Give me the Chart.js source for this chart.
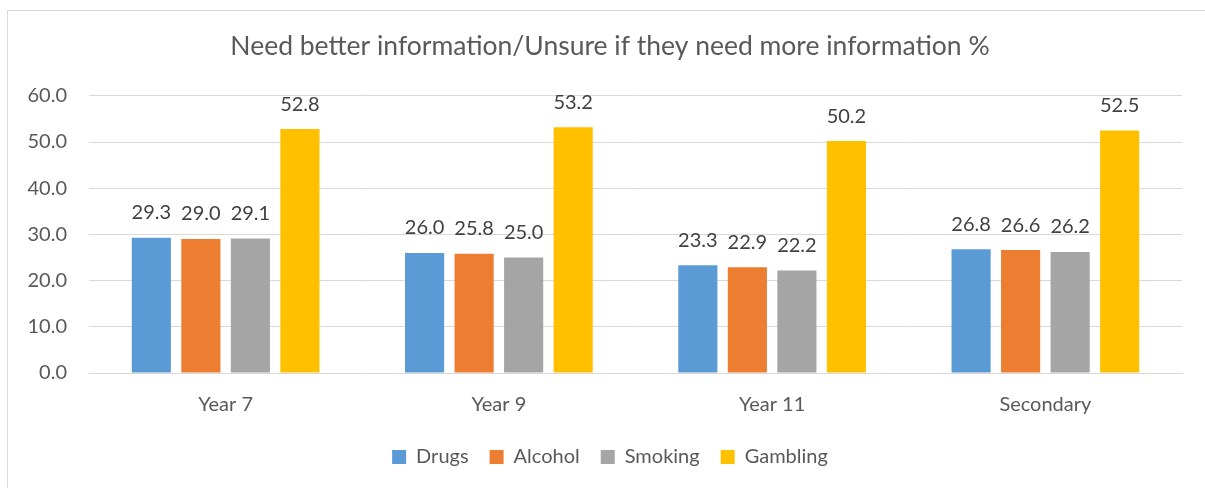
<!DOCTYPE html>
<html>
<head>
<meta charset="utf-8">
<script src="https://cdn.jsdelivr.net/npm/chart.js@4"></script>
<style>
  html, body { margin: 0; padding: 0; background: #ffffff; }
  #wrap { position: relative; width: 1205px; height: 488px; overflow: hidden; }
  #frame { position: absolute; left: 7px; top: 10px; width: 1300px; height: 600px; border: 1px solid #d9d9d9; box-sizing: border-box; }
  canvas { position: absolute; left: 0; top: 0; }
</style>
</head>
<body>
<div id="wrap">
  <div id="frame"></div>
  <canvas id="c" width="1205" height="488"></canvas>
</div>
<script>
const categories = ['Year 7', 'Year 9', 'Year 11', 'Secondary'];
const drugs    = [29.3, 26.0, 23.3, 26.8];
const alcohol  = [29.0, 25.8, 22.9, 26.6];
const smoking  = [29.1, 25.0, 22.2, 26.2];
const gambling = [52.8, 53.2, 50.2, 52.5];
const yTicks   = [0, 10, 20, 30, 40, 50, 60];

const FONT = 'Lato, "Open Sans", sans-serif';
const TEXT = '#595959';

// Writes each bar's value above it
const valueLabels = {
  id: 'valueLabels',
  afterDatasetsDraw(chart) {
    const ctx = chart.ctx;
    ctx.save();
    ctx.font = '20px ' + FONT;
    ctx.fillStyle = '#404040';
    ctx.textAlign = 'center';
    ctx.textBaseline = 'middle';
    chart.data.datasets.forEach((ds, i) => {
      chart.getDatasetMeta(i).data.forEach((bar, j) => {
        ctx.fillText(ds.data[j].toFixed(1), bar.x, bar.y - 25);
      });
    });
    ctx.restore();
  }
};

const mk = (label, data, color) => ({
  label, data, backgroundColor: color, borderWidth: 0,
  categoryPercentage: 0.725, barPercentage: 0.79
});

new Chart(document.getElementById('c'), {
  type: 'bar',
  data: {
    labels: categories,
    datasets: [
      mk('Drugs', drugs, '#5B9BD5'),
      mk('Alcohol', alcohol, '#ED7D31'),
      mk('Smoking', smoking, '#A5A5A5'),
      mk('Gambling', gambling, '#FFC000')
    ]
  },
  options: {
    responsive: false,
    animation: false,
    layout: { padding: { left: 15, right: 0, top: 0, bottom: 11 } },
    plugins: {
      title: {
        display: true,
        text: 'Need better information/Unsure if they need more information %',
        color: TEXT,
        font: { family: FONT, size: 26.5, weight: 'normal' },
        padding: { top: 31, bottom: 33 }
      },
      legend: {
        position: 'bottom',
        labels: {
          color: TEXT,
          font: { family: FONT, size: 20 },
          boxWidth: 14, boxHeight: 14, padding: 21
        }
      },
      tooltip: { enabled: false }
    },
    scales: {
      x: {
        grid: { display: false, drawTicks: false },
        border: { color: '#d9d9d9' },
        ticks: { color: TEXT, font: { family: FONT, size: 20 }, padding: 20 },
        afterFit(s) { s.height = 53; }
      },
      y: {
        min: 0, max: 60,
        afterBuildTicks(s) { s.ticks = yTicks.map(v => ({ value: v })); },
        grid: { color: '#d9d9d9', drawTicks: false },
        border: { display: false },
        ticks: {
          color: TEXT, font: { family: FONT, size: 20 }, padding: 22,
          callback: v => Number(v).toFixed(1)
        },
        afterFit(s) { s.width = 74; }
      },
      // blank margin on the right of the plot area
      yRight: {
        position: 'right',
        min: 0, max: 60,
        grid: { display: false, drawTicks: false },
        border: { display: false },
        ticks: { display: false },
        afterFit(s) { s.width = 23; }
      }
    }
  },
  plugins: [valueLabels]
});
</script>
</body>
</html>
